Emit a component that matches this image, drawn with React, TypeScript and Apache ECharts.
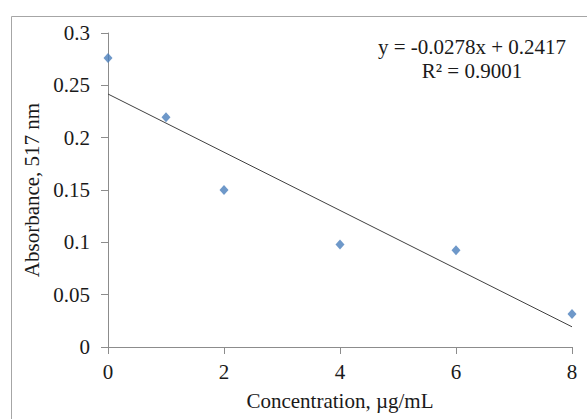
import React, { useEffect, useRef } from "react";
import * as echarts from "echarts";

const concentrations = [0, 1, 2, 4, 6, 8];
const absorbances = [0.276, 0.2195, 0.15, 0.098, 0.0925, 0.0315];
const trendX = [0, 8];
const trendY = [0.2417, 0.0193];
const equationLines = ["y = -0.0278x + 0.2417", "R² = 0.9001"];
const xTicks = { min: 0, max: 8, interval: 2 };
const yTicks = { min: 0, max: 0.3, interval: 0.05 };

const FONT = "'Liberation Serif', 'Times New Roman', serif";

export default function App() {
  const ref = useRef<HTMLDivElement>(null);
  useEffect(() => {
    document.body.style.margin = "0";
    if (!ref.current) return;
    const chart = echarts.init(ref.current, undefined, { renderer: "svg" });
    const axisLine = { lineStyle: { color: "#8c8c8c", width: 1 } };
    chart.setOption({
      animation: false,
      backgroundColor: "#ffffff",
      grid: { left: 108, top: 33, right: 15, bottom: 72, containLabel: false },
      xAxis: {
        type: "value",
        min: xTicks.min,
        max: xTicks.max,
        interval: xTicks.interval,
        name: "Concentration, µg/mL",
        nameLocation: "middle",
        nameGap: 43,
        nameTextStyle: { fontFamily: FONT, fontSize: 21, color: "#1a1a1a" },
        axisLine: { show: true, ...axisLine },
        axisTick: { show: true, length: 7, inside: false, lineStyle: { color: "#8c8c8c" } },
        axisLabel: { fontFamily: FONT, fontSize: 21, color: "#1a1a1a", margin: 14 },
        splitLine: { show: false },
      },
      yAxis: {
        type: "value",
        min: yTicks.min,
        max: yTicks.max,
        interval: yTicks.interval,
        name: "Absorbance, 517 nm",
        nameLocation: "middle",
        nameGap: 65,
        nameRotate: 90,
        nameTextStyle: { fontFamily: FONT, fontSize: 21, color: "#1a1a1a" },
        axisLine: { show: true, ...axisLine },
        axisTick: { show: true, length: 7, inside: false, lineStyle: { color: "#8c8c8c" } },
        axisLabel: {
          fontFamily: FONT,
          fontSize: 21,
          color: "#1a1a1a",
          margin: 18,
          formatter: (v: number) => String(parseFloat(v.toFixed(2))),
        },
        splitLine: { show: false },
      },
      series: [
        {
          type: "line",
          data: trendX.map((x, i) => [x, trendY[i]]),
          showSymbol: false,
          symbol: "none",
          lineStyle: { color: "#404040", width: 1 },
          silent: true,
          z: 2,
        },
        {
          type: "scatter",
          data: concentrations.map((x, i) => [x, absorbances[i]]),
          symbol: "diamond",
          symbolSize: [9, 10],
          itemStyle: { color: "#4a7ebb" },
          z: 3,
        },
      ],
      graphic: [
        {
          type: "rect",
          shape: { x: 11.5, y: 16.5, width: 620, height: 450 },
          style: { fill: "none", stroke: "#a6a6a6", lineWidth: 1 },
          silent: true,
          z: -1,
        },
        ...equationLines.map((t, i) => ({
          type: "text",
          x: 472,
          y: 47 + i * 24,
          style: {
            text: t,
            fontFamily: FONT,
            fontSize: 21,
            fill: "#1a1a1a",
            textAlign: "center",
            textVerticalAlign: "middle",
          },
        })),
      ],
    });
    return () => chart.dispose();
  }, []);
  return <div ref={ref} style={{ width: 587, height: 419 }} />;
}
